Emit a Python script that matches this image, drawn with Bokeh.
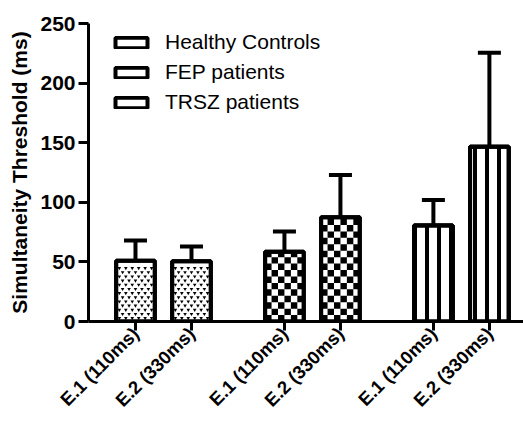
import math
import numpy as np
from bokeh.plotting import figure
from bokeh.models import (ColumnDataSource, Range1d, FixedTicker, Whisker, TeeHead,
                          Legend, LegendItem)
from bokeh.embed import file_html
from bokeh.resources import INLINE

# ---- data ----
groups = ["Healthy Controls", "FEP patients", "TRSZ patients"]
conditions = ["E.1 (110ms)", "E.2 (330ms)"]
hc_mean = [51, 50.5]
fep_mean = [58.5, 87.5]
trsz_mean = [80.5, 146.5]
hc_sd = [17, 12.5]
fep_sd = [17, 35.5]
trsz_sd = [21.5, 79]
y_ticks = [0, 50, 100, 150, 200, 250]

means = [hc_mean, fep_mean, trsz_mean]
sds = [hc_sd, fep_sd, trsz_sd]

# ---- layout / style ----
group_step = 2.66
bar_w = 0.69
FONT = "Liberation Sans"
checker_cols = 6
checker_h = 5.4      # data units (square cells)
stip_cols = 6
stip_row_h = 3.5     # data units

p = figure(width=523, height=421, output_backend="svg", toolbar_location=None,
           x_range=Range1d(0.161, 7.929), y_range=Range1d(0, 250),
           min_border_left=88, min_border_top=23, min_border_right=0,
           min_border_bottom=100)
p.outline_line_color = None
p.grid.visible = False
p.background_fill_color = "white"

all_x, all_top, all_up, tick_labels = [], [], [], {}
legend_items = []
for g, name in enumerate(groups):
    xs = [round(1 + g * group_step + c, 2) for c in range(len(conditions))]
    tops = list(means[g])
    ups = [m + s for m, s in zip(means[g], sds[g])]
    src = ColumnDataSource(dict(x=xs, top=tops))
    # plain bar (also used for the legend swatch)
    r = p.vbar(x="x", top="top", width=bar_w, source=src, fill_color="white",
               line_color="black", line_width=4)
    legend_items.append(LegendItem(label=name, renderers=[r]))
    if g == 0:
        # stipple pattern
        mx, my = [], []
        pitch = bar_w / stip_cols
        for xc, t in zip(xs, tops):
            nrows = int((t - stip_row_h * 0.6) / stip_row_h)
            for rr in range(nrows):
                yy = stip_row_h * (rr + 0.8)
                if rr % 2 == 0:
                    cols = [xc - bar_w / 2 + (c + 0.5) * pitch for c in range(stip_cols)]
                else:
                    cols = [xc - bar_w / 2 + (c + 1) * pitch for c in range(stip_cols - 1)]
                mx += cols
                my += [yy] * len(cols)
        p.scatter(mx, my, marker="inverted_triangle", size=3.6, fill_color="black",
                  line_color=None)
    elif g == 1:
        # checkerboard
        l, rgt, b, tp = [], [], [], []
        cw = bar_w / checker_cols
        for xc, t in zip(xs, tops):
            nrows = int(np.ceil(t / checker_h))
            for rr in range(nrows):
                for c in range(checker_cols):
                    if (rr + c) % 2 == 0:
                        l.append(xc - bar_w / 2 + c * cw)
                        rgt.append(xc - bar_w / 2 + (c + 1) * cw)
                        b.append(rr * checker_h)
                        tp.append(min((rr + 1) * checker_h, t))
        p.quad(left=l, right=rgt, bottom=b, top=tp, fill_color="black", line_color=None)
    else:
        p.vbar(x="x", top="top", width=bar_w, source=src, fill_color="white",
               line_color="black", line_width=4, hatch_pattern="vertical_line",
               hatch_color="black", hatch_scale=12, hatch_weight=4)
    # outline on top
    p.vbar(x="x", top="top", width=bar_w, source=src, fill_color=None,
           line_color="black", line_width=4)
    all_x += xs
    all_top += tops
    all_up += ups
    for xv, lab in zip(xs, conditions):
        tick_labels[xv] = lab

err_src = ColumnDataSource(dict(x=all_x, top=all_top, upper=all_up))
whisk = Whisker(source=err_src, base="x", lower="top", upper="upper",
                line_width=4, line_color="black", lower_head=None,
                upper_head=TeeHead(size=23, line_width=4, line_color="black"))
p.add_layout(whisk)

legend = Legend(items=legend_items, location=(23, 207), padding=0, margin=0,
                border_line_color=None, background_fill_alpha=0,
                glyph_width=40, glyph_height=13, label_standoff=14,
                label_text_font=FONT, label_text_font_size="21px",
                label_text_color="black", label_height=24, spacing=6)
p.add_layout(legend)

# axes
for ax in (p.xaxis[0], p.yaxis[0]):
    ax.axis_line_width = 3
    ax.axis_line_color = "black"
    ax.major_tick_line_width = 3
    ax.major_tick_line_color = "black"
    ax.major_tick_in = 0
    ax.minor_tick_line_color = None
    ax.major_label_text_font = FONT
    ax.major_label_text_font_style = "bold"
    ax.major_label_text_color = "black"

p.yaxis.ticker = FixedTicker(ticks=y_ticks)
p.yaxis.major_tick_out = 10
p.yaxis.major_label_text_font_size = "21px"
p.yaxis.major_label_standoff = 3
p.yaxis.axis_label = "Simultaneity Threshold (ms)"
p.yaxis.axis_label_text_font = FONT
p.yaxis.axis_label_text_font_style = "bold"
p.yaxis.axis_label_text_font_size = "21px"
p.yaxis.axis_label_standoff = 6
p.yaxis.axis_label_text_color = "black"

p.xaxis.ticker = FixedTicker(ticks=all_x)
p.xaxis.major_label_overrides = tick_labels
p.xaxis.major_label_orientation = math.pi / 4
p.xaxis.major_tick_out = 9
p.xaxis.major_label_text_font_size = "18.5px"
p.xaxis.major_label_standoff = 0

open("out.html", "w").write(file_html(p, INLINE))
